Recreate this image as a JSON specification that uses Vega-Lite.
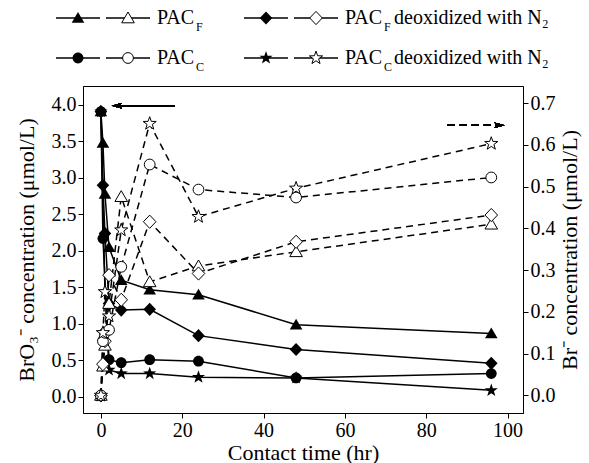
{
  "$schema": "https://vega.github.io/schema/vega-lite/v6.json",
  "width": 440,
  "height": 327,
  "autosize": {"type": "none"},
  "padding": {"left": 83, "top": 86, "right": 66, "bottom": 50},
  "background": "white",
  "config": {
    "view": {"stroke": "black", "strokeWidth": 1},
    "font": "Liberation Serif",
    "axis": {
      "labelFont": "Liberation Serif", "titleFont": "Liberation Serif",
      "labelFontSize": 20, "titleFontSize": 22, "titleFontWeight": "normal",
      "labelColor": "black", "titleColor": "black", "domainColor": "black", "tickColor": "black",
      "tickSize": 5, "labelPadding": 2, "grid": false, "labelFlush": false, "labelOverlap": false
    }
  },
  "datasets": {
    "bro3": [
      {"series": "PAC_F", "t": 0, "v": 3.91}, {"series": "PAC_F", "t": 0.5, "v": 3.48}, {"series": "PAC_F", "t": 1, "v": 2.78}, {"series": "PAC_F", "t": 2, "v": 2.05}, {"series": "PAC_F", "t": 5, "v": 1.6}, {"series": "PAC_F", "t": 12, "v": 1.47}, {"series": "PAC_F", "t": 24, "v": 1.4}, {"series": "PAC_F", "t": 48, "v": 0.99}, {"series": "PAC_F", "t": 96, "v": 0.87},
      {"series": "PAC_F_N2", "t": 0, "v": 3.91}, {"series": "PAC_F_N2", "t": 0.5, "v": 2.9}, {"series": "PAC_F_N2", "t": 1, "v": 2.24}, {"series": "PAC_F_N2", "t": 2, "v": 1.28}, {"series": "PAC_F_N2", "t": 5, "v": 1.19}, {"series": "PAC_F_N2", "t": 12, "v": 1.2}, {"series": "PAC_F_N2", "t": 24, "v": 0.84}, {"series": "PAC_F_N2", "t": 48, "v": 0.65}, {"series": "PAC_F_N2", "t": 96, "v": 0.46},
      {"series": "PAC_C", "t": 0, "v": 3.91}, {"series": "PAC_C", "t": 0.5, "v": 2.17}, {"series": "PAC_C", "t": 2, "v": 0.51}, {"series": "PAC_C", "t": 5, "v": 0.47}, {"series": "PAC_C", "t": 12, "v": 0.51}, {"series": "PAC_C", "t": 24, "v": 0.49}, {"series": "PAC_C", "t": 48, "v": 0.26}, {"series": "PAC_C", "t": 96, "v": 0.32},
      {"series": "PAC_C_N2", "t": 0, "v": 3.91}, {"series": "PAC_C_N2", "t": 1, "v": 1.44}, {"series": "PAC_C_N2", "t": 2, "v": 0.37}, {"series": "PAC_C_N2", "t": 5, "v": 0.32}, {"series": "PAC_C_N2", "t": 12, "v": 0.32}, {"series": "PAC_C_N2", "t": 24, "v": 0.27}, {"series": "PAC_C_N2", "t": 48, "v": 0.26}, {"series": "PAC_C_N2", "t": 96, "v": 0.09}
    ],
    "br": [
      {"series": "PAC_F", "t": 0, "v": 0}, {"series": "PAC_F", "t": 0.5, "v": 0.07}, {"series": "PAC_F", "t": 1, "v": 0.12}, {"series": "PAC_F", "t": 2, "v": 0.22}, {"series": "PAC_F", "t": 5, "v": 0.476}, {"series": "PAC_F", "t": 12, "v": 0.272}, {"series": "PAC_F", "t": 24, "v": 0.31}, {"series": "PAC_F", "t": 48, "v": 0.344}, {"series": "PAC_F", "t": 96, "v": 0.41},
      {"series": "PAC_F_N2", "t": 0, "v": 0}, {"series": "PAC_F_N2", "t": 0.5, "v": 0.075}, {"series": "PAC_F_N2", "t": 1, "v": 0.13}, {"series": "PAC_F_N2", "t": 2, "v": 0.288}, {"series": "PAC_F_N2", "t": 5, "v": 0.229}, {"series": "PAC_F_N2", "t": 12, "v": 0.416}, {"series": "PAC_F_N2", "t": 24, "v": 0.292}, {"series": "PAC_F_N2", "t": 48, "v": 0.368}, {"series": "PAC_F_N2", "t": 96, "v": 0.432},
      {"series": "PAC_C", "t": 0, "v": 0}, {"series": "PAC_C", "t": 0.5, "v": 0.13}, {"series": "PAC_C", "t": 1, "v": 0.15}, {"series": "PAC_C", "t": 2, "v": 0.157}, {"series": "PAC_C", "t": 5, "v": 0.308}, {"series": "PAC_C", "t": 12, "v": 0.553}, {"series": "PAC_C", "t": 24, "v": 0.493}, {"series": "PAC_C", "t": 48, "v": 0.474}, {"series": "PAC_C", "t": 96, "v": 0.522},
      {"series": "PAC_C_N2", "t": 0, "v": 0}, {"series": "PAC_C_N2", "t": 0.5, "v": 0.15}, {"series": "PAC_C_N2", "t": 1, "v": 0.248}, {"series": "PAC_C_N2", "t": 2, "v": 0.19}, {"series": "PAC_C_N2", "t": 5, "v": 0.396}, {"series": "PAC_C_N2", "t": 12, "v": 0.651}, {"series": "PAC_C_N2", "t": 24, "v": 0.428}, {"series": "PAC_C_N2", "t": 48, "v": 0.496}, {"series": "PAC_C_N2", "t": 96, "v": 0.603}
    ],
    "legend": [
      {"series": "PAC_F", "carbon": "F", "treatment": "none"},
      {"series": "PAC_F_N2", "carbon": "F", "treatment": "N2"},
      {"series": "PAC_C", "carbon": "C", "treatment": "none"},
      {"series": "PAC_C_N2", "carbon": "C", "treatment": "N2"}
    ]
  },
  "layer": [
    {
      "data": {"name": "bro3"},
      "layer": [
        {
          "mark": {"type": "line", "color": "black", "strokeWidth": 1.5},
          "encoding": {
            "x": {"field": "t", "type": "quantitative", "scale": {"domain": [-4.4, 103.8], "nice": false, "zero": false},
                  "axis": {"values": [0, 20, 40, 60, 80, 100], "title": "Contact time (hr)", "titlePadding": 2}},
            "y": {"field": "v", "type": "quantitative", "scale": {"domain": [-0.22, 4.26], "nice": false, "zero": false},
                  "axis": {"orient": "left", "values": [0, 0.5, 1, 1.5, 2, 2.5, 3, 3.5, 4], "format": ".1f", "title": "BrO₃⁻ concentration (μmol/L)", "titlePadding": 13}},
            "detail": {"field": "series"}
          }
        },
        {
          "mark": {"type": "point", "filled": true, "color": "black", "opacity": 1, "size": 144},
          "encoding": {
            "x": {"field": "t", "type": "quantitative"},
            "y": {"field": "v", "type": "quantitative"},
            "shape": {"field": "series", "type": "nominal", "legend": null,
                      "scale": {"domain": ["PAC_F", "PAC_F_N2", "PAC_C", "PAC_C_N2"], "range": ["M0,-1L1.05,0.8L-1.05,0.8Z", "M0,-1.1L1.05,0L0,1.1L-1.05,0Z", "M0.9,0A0.9,0.9,0,1,1,-0.9,0A0.9,0.9,0,1,1,0.9,0Z", "M0,-1.15L0.27,-0.373L1.094,-0.355L0.437,0.143L0.676,0.93L0,0.46L-0.676,0.93L-0.437,0.143L-1.094,-0.355L-0.27,-0.373Z"]}}
          }
        },
        {
          "mark": {"type": "rule", "color": "black", "strokeWidth": 1},
          "encoding": {"x": {"datum": 3.9}, "x2": {"datum": 18.2}, "y": {"datum": 3.99}}
        },
        {
          "mark": {"type": "point", "shape": "M-1,0L1,-0.55L0.55,0L1,0.55Z", "filled": true, "color": "black", "opacity": 1, "size": 100},
          "encoding": {"x": {"datum": 3.9}, "y": {"datum": 3.99}}
        }
      ]
    },
    {
      "data": {"name": "br"},
      "layer": [
        {
          "mark": {"type": "line", "color": "black", "strokeWidth": 1.5, "strokeDash": [7, 5]},
          "encoding": {
            "x": {"field": "t", "type": "quantitative", "scale": {"domain": [-4.4, 103.8], "nice": false, "zero": false}, "axis": null},
            "y": {"field": "v", "type": "quantitative", "scale": {"domain": [-0.042, 0.741], "nice": false, "zero": false},
                  "axis": {"orient": "right", "values": [0, 0.1, 0.2, 0.3, 0.4, 0.5, 0.6, 0.7], "format": ".1f", "title": "Br⁻ concentration (μmol/L)", "titleAngle": 270, "titleBaseline": "top", "titlePadding": 4}},
            "detail": {"field": "series"}
          }
        },
        {
          "mark": {"type": "point", "filled": true, "fill": "white", "stroke": "black", "strokeWidth": 1, "opacity": 1, "size": 144},
          "encoding": {
            "x": {"field": "t", "type": "quantitative"},
            "y": {"field": "v", "type": "quantitative"},
            "shape": {"field": "series", "type": "nominal", "legend": null}
          }
        },
        {
          "mark": {"type": "rule", "color": "black", "strokeWidth": 1.2, "strokeDash": [7, 5]},
          "encoding": {"x": {"datum": 85.3}, "x2": {"datum": 98.0}, "y": {"datum": 0.647}}
        },
        {
          "mark": {"type": "point", "shape": "M1,0L-1,-0.55L-0.55,0L-1,0.55Z", "filled": true, "color": "black", "opacity": 1, "size": 100},
          "encoding": {"x": {"datum": 98.0}, "y": {"datum": 0.647}}
        }
      ]
    },
    {
      "data": {"name": "legend"},
      "encoding": {
        "x": {"field": "treatment", "type": "nominal", "scale": {"type": "point", "domain": ["none", "N2"], "range": [-5, 183], "padding": 0}, "axis": null},
        "y": {"field": "carbon", "type": "nominal", "scale": {"type": "point", "domain": ["F", "C"], "range": [-68, -28], "padding": 0}, "axis": null}
      },
      "layer": [
        {"mark": {"type": "rule", "color": "black", "strokeWidth": 1.5, "xOffset": -22, "x2Offset": 22}, "encoding": {"x2": {"field": "treatment"}}},
        {"mark": {"type": "rule", "color": "black", "strokeWidth": 1.5, "xOffset": 28, "x2Offset": 72}, "encoding": {"x2": {"field": "treatment"}}},
        {
          "mark": {"type": "point", "filled": true, "color": "black", "opacity": 1, "size": 144},
          "encoding": {"shape": {"field": "series", "type": "nominal", "legend": null}}
        },
        {
          "mark": {"type": "point", "filled": true, "fill": "white", "stroke": "black", "strokeWidth": 1, "opacity": 1, "size": 144, "xOffset": 50},
          "encoding": {"shape": {"field": "series", "type": "nominal", "legend": null}}
        },
        {"mark": {"type": "text", "text": "PAC", "font": "Liberation Serif", "fontSize": 20, "align": "left", "baseline": "middle", "dx": 79, "color": "black"}},
        {"mark": {"type": "text", "font": "Liberation Serif", "fontSize": 12, "align": "left", "baseline": "middle", "dx": 118, "dy": 9, "color": "black"}, "encoding": {"text": {"field": "carbon"}}},
        {"transform": [{"filter": "datum.treatment === 'N2'"}], "mark": {"type": "text", "text": "deoxidized with N₂", "font": "Liberation Serif", "fontSize": 20, "align": "left", "baseline": "middle", "dx": 128, "color": "black"}}
      ]
    }
  ],
  "resolve": {"scale": {"x": "independent", "y": "independent"}}
}
